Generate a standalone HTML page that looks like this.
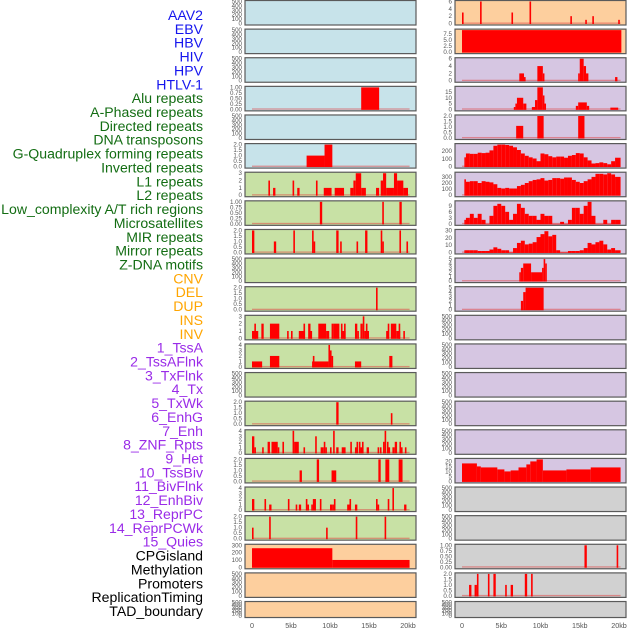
<!DOCTYPE html>
<html><head><meta charset="utf-8">
<style>
html,body{margin:0;padding:0;background:#fff;}
#wrap{position:relative;width:630px;height:630px;overflow:hidden;}
svg{position:absolute;left:0;top:0;}
text{font-family:"Liberation Sans","DejaVu Sans",sans-serif;}
</style></head>
<body>
<div id="wrap">
<svg id="chart" width="630" height="630" viewBox="0 0 630 630"></svg>
</div>
<script>
const labelNames = ["AAV2","EBV","HBV","HIV","HPV","HTLV-1","Alu repeats","A-Phased repeats","Directed repeats","DNA transposons","G-Quadruplex forming repeats","Inverted repeats","L1 repeats","L2 repeats","Low_complexity A/T rich regions","Microsatellites","MIR repeats","Mirror repeats","Z-DNA motifs","CNV","DEL","DUP","INS","INV","1_TssA","2_TssAFlnk","3_TxFlnk","4_Tx","5_TxWk","6_EnhG","7_Enh","8_ZNF_Rpts","9_Het","10_TssBiv","11_BivFlnk","12_EnhBiv","13_ReprPC","14_ReprPCWk","15_Quies","CPGisland","Methylation","Promoters","ReplicationTiming","TAD_boundary"];
const labelGroups = [6,13,5,15,5];
const groupColors = ["#1515ee","#136d13","#ffa500","#9a2be8","#000000"];
const leftBg = ["b","b","b","b","b","b","g","g","g","g","g","g","g","g","g","g","g","g","g","p","p","p"];
const rightBg = ["p","p","l","l","l","l","l","l","l","l","l","l","l","l","l","l","l","y","y","y","y","y"];
const bgColors = {b:"#c7e3ea",g:"#c8e1a5",p:"#fdcf9e",l:"#d6c6e2",y:"#d1d1d1"};
const xTickLabels = ["0","5kb","10kb","15kb","20kb"];
const xTickValues = [0,5,10,15,20];

const E = ["0","100","200","300","400","500"];
const leftTicks = [E,E,E,["0.00","0.25","0.50","0.75","1.00"],E,["0.0","0.5","1.0","1.5","2.0"],
 ["0","1","2","3"],["0.00","0.25","0.50","0.75","1.00"],["0.0","0.5","1.0","1.5","2.0"],E,["0.0","0.5","1.0","1.5","2.0"],["0","1","2","3"],
 ["0","1","2","3","4"],E,["0.0","0.5","1.0","1.5","2.0"],["0","1","2","3","4"],["0.0","0.5","1.0","1.5","2.0"],["0","1","2","3","4"],
 ["0.0","0.5","1.0","1.5","2.0"],["0","100","200","300"],E,E];
const leftSegs = [[],[],[],[[14,16.3,1]],[],[[7,9.3,1],[9.3,10.3,2]],
 [[2.1,2.3,2],[2.7,3,1],[5.2,5.4,2],[5.8,6.1,1],[8.2,8.4,2],[9.2,10.2,1],[10.6,11.8,1],[12.6,13,1],[13,13.3,2],[13.3,14,3],[14,14.6,1],[15.9,16.3,1],[16.5,16.8,2],[16.8,17.2,3],[17.2,18.2,1],[18.2,18.6,3],[18.6,19.4,2],[19.4,20,1]],
 [[8.7,9,1],[16.7,16.9,1],[18.9,19.2,1]],
 [[0,0.3,2],[2.8,3.1,1],[5.3,5.5,2],[7.7,7.9,2],[7.9,8.1,1],[10.8,11.1,2],[11.3,11.5,1],[13.4,13.6,1],[14.5,14.8,2],[16.5,16.7,2],[16.7,16.9,1],[18.9,19.1,2],[19.8,20,1]],
 [],[[15.9,16.1,2]],
 [[0,0.8,1],[0.3,0.5,2],[1.2,1.5,2],[2.3,3.5,2],[4.5,4.7,1],[5,5.2,1],[6,6.8,1],[6.6,6.8,2],[7.2,7.5,2],[7.5,7.7,1],[8.5,9.5,2],[9.5,9.9,1],[10.2,10.5,2],[10.5,11.2,2],[11.4,11.6,2],[11.6,12,1],[11.8,12,2],[13.2,13.5,2],[13.5,13.7,1],[13.9,14.2,2],[14.2,14.4,3],[14.4,15,1],[14.6,14.8,2],[17.2,17.5,1],[17.4,17.6,2],[17.8,18.5,2],[18.5,19,1],[18.8,19,2],[19.4,19.6,1]],
 [[0,1.3,1],[2.3,3.5,2],[7.7,9.8,1],[7.8,8,2],[9.8,10,4],[10,10.2,3],[10.2,10.4,2],[13.2,14,1],[17.6,18,2]],
 [],[[10.8,11.1,2],[17.8,18,1]],
 [[0,0.3,3],[0.3,0.5,1],[1.3,1.5,1],[2,2.3,2],[2.5,3.3,2],[3.3,3.5,1],[3.9,4.1,2],[5.2,5.4,4],[5.4,6,2],[6.6,6.8,1],[8.1,8.3,3],[8.8,9.2,1],[9.2,9.4,2],[9.4,9.6,1],[10,10.2,1],[10.4,10.6,4],[10.8,11.1,1],[11.5,12,1],[12.6,12.8,2],[13.2,13.4,1],[13.4,13.6,2],[13.7,13.9,2],[13.9,14.1,1],[14.1,14.3,2],[14.7,15,1],[16.1,16.3,1],[16.4,16.6,1],[16.8,17,2],[17,17.2,4],[17.3,17.5,2],[17.5,17.7,1],[18,18.3,1],[18.3,18.6,2],[18.9,19.1,2],[19.1,19.3,1],[19.6,19.8,1]],
 [[6.1,6.4,1],[8.3,8.6,2],[10.2,10.8,1],[16.2,16.5,2],[17.1,17.6,2],[18.8,19.3,2]],
 [[0,0.3,2],[1.6,1.8,2],[2.2,2.5,1],[4.6,4.8,2],[5.6,5.8,1],[6,6.3,1],[6.9,7.1,2],[7.1,7.3,1],[7.6,7.8,1],[7.8,8.2,2],[8.7,8.9,2],[10,10.3,1],[10.3,10.5,1],[10.5,10.7,2],[12.2,12.5,1],[12.5,12.7,2],[13.2,13.5,1],[15.9,16.1,2],[16.1,16.3,1],[17.4,17.6,2],[18,18.2,4],[19.5,19.8,1]],
 [[0,0.2,1],[2.2,2.4,2],[9.5,9.7,1],[13.3,13.5,2],[17,17.2,2]],
 [[0,10.3,260],[10.3,20.2,100]],[],[]];

const rightTicks = [["0","2","4","6"],["0.0","2.5","5.0","7.5"],["0","2","4","6"],["0","5","10","15"],["0.0","0.5","1.0","1.5","2.0"],["0","100","200"],
 ["0","100","200","300"],["0","3","6","9"],["0","10","20","30"],["0","1","2","3","4","5"],["0","1","2","3","4","5"],E,E,E,E,E,
 ["0","5","10","15","20"],E,E,["0.00","0.25","0.50","0.75","1.00"],["0.0","0.5","1.0","1.5","2.0"],E];
const gquadBins = [120,170,165,165,180,175,180,210,270,285,285,280,270,250,215,170,140,120,105,70,170,160,135,120,130,130,115,140,150,175,170,120,80,40,45,55,45,30,70,115];
const l1Bins = [260,220,230,230,200,230,220,210,180,120,110,120,110,110,150,170,200,230,250,260,280,240,250,280,280,270,290,290,250,220,200,230,260,300,350,350,340,360,340,300];
const lowCxBins = [2,3,5,3,5,2,0,4,9,10,9,6,2,5,10,8,5,4,4,2,5,4,4,0,0,1,0,2,8,8,5,9,11,4,0,0,2,0,2,2];
const mirBins = [3,3,3,3,2,2,2,4,7,5,3,3,0,6,13,16,11,12,14,21,25,29,22,24,3,0,0,2,2,2,3,6,13,11,14,16,11,4,6,3];
const rightSegs = [
 [[0,0.12,3],[2.3,2.42,6],[6.3,6.42,3],[8.6,8.72,6],[13.8,13.92,2],[15.7,15.82,1],[16.6,16.72,2],[19.9,20.02,1]],
 [[0,20.3,9]],
 [[7.3,7.9,2],[7.9,8.1,1],[9.6,10.3,4],[10.3,10.5,2],[14.8,15,2],[15,15.5,6],[15.5,15.8,4],[15.8,16.1,2],[19.5,19.8,1]],
 [[6.6,6.8,2],[6.8,7,5],[7,7.8,10],[7.8,8.2,5],[8.9,9.3,2],[9.3,9.6,8],[9.6,10.3,19],[10.3,10.5,12],[10.5,10.7,5],[14.5,14.8,3],[14.8,15.9,6],[15.9,16.2,3],[18.9,19.9,1.5]],
 [[6.9,7.8,1.1],[9.6,10.4,2],[14.8,15.6,2]],
 "gquad","l1","lowcx","mir",
 [[7.3,7.5,2],[7.5,7.8,3],[7.8,8.8,4],[8.8,10.2,2],[10.2,10.4,3],[10.4,10.6,5],[10.6,10.8,4]],
 [[7.5,7.8,2],[7.8,8.1,4],[8.1,10.4,5]],
 [],[],[],[],[],
 [[0,1.9,18],[1.9,2.4,15],[2.4,4.5,14],[4.5,5.4,12],[5.4,6.2,10],[6.2,7.2,11],[7.2,8.2,14],[8.2,8.7,17],[8.7,9.5,20],[9.5,10.3,22],[10.3,13.3,11],[13.3,16.4,12],[16.4,20.2,14]],
 [],[],
 [[15.6,15.9,1],[19.7,19.85,1]],
 [[0.9,1.2,1],[1.6,1.9,1],[1.9,2.1,2],[3.3,3.5,2],[4,4.3,2],[5.5,5.7,1],[6.2,6.5,1],[8,8.3,2],[8.8,9,2]],
 []];

const binnedSeries = {gquad:gquadBins,l1:l1Bins,lowcx:lowCxBins,mir:mirBins};
const NS="http://www.w3.org/2000/svg";
const svg=document.getElementById('chart');
function mk(tag,attrs,parent){const e=document.createElementNS(NS,tag);for(const k in attrs)e.setAttribute(k,attrs[k]);(parent||svg).appendChild(e);return e;}

let idx=0;
labelGroups.forEach((n,g)=>{for(let j=0;j<n;j++){const t=mk('text',{x:203,y:15+idx*13.86+5,'text-anchor':'end','font-size':'14.1',fill:groupColors[g]});


t.textContent=labelNames[idx];idx++;}});

function rowTop(i){return 0.5+i*28.62;}
function rowH(i){return i===21?16:24.5;}

function drawPanel(col,i,ticks,segsIn,bg){
  const px=col===0?245:455, pw=171;
  const x0=col===0?252:462, kx=col===0?7.8:7.85;
  const sx=kb=>x0+kb*kx;
  const top=rowTop(i), h=rowH(i);
  const g=mk('g',{});
  
  
  const r=mk('rect',{x:px,y:top,width:pw,height:h,fill:bgColors[bg],stroke:'#5a5a5a','stroke-width':1.2},g);
  
  
  let segs=segsIn;
  if(typeof segsIn==='string'){const b=binnedSeries[segsIn];segs=b.map((v,k)=>[k*0.5+(k===0?0.3:0),k*0.5+0.5+(k===b.length-1?0.2:0),v]);}
  const tickVals=ticks.map(parseFloat);
  let ymax=tickVals[tickVals.length-1];
  segs.forEach(s=>{if(s[2]>ymax)ymax=s[2];});
  const yb=top+h-1.5, yt=top+1;
  const sy=v=>yb-(v/ymax)*(yb-yt);
  ticks.forEach((t,k)=>{const tt=mk('text',{x:px-3,y:sy(tickVals[k])+2,'text-anchor':'end','font-size':6.2,fill:'#555'},g);
    
    
    tt.textContent=t;});
  if(segs.length){
    const bl=mk('rect',{x:sx(0),y:yb-1,width:sx(20.2)-sx(0),height:1.3,fill:'#e04040',opacity:0.5},g);
    
    
  }
  segs.forEach(s=>{const y=sy(s[2]);const b=mk('rect',{x:sx(s[0]),y:y,width:Math.max(1.6,sx(s[1])-sx(s[0])),height:yb-y+0.5,fill:'#ff0000'},g);
    
    });
}
for(let i=0;i<22;i++){drawPanel(0,i,leftTicks[i],leftSegs[i],leftBg[i]);drawPanel(1,i,rightTicks[i],rightSegs[i],rightBg[i]);}

[0,1].forEach(col=>{const x0=col===0?252:462,kx=col===0?7.8:7.85;
 xTickValues.forEach((v,k)=>{const t=mk('text',{x:x0+v*kx,y:628,'text-anchor':'middle','font-size':7.2,fill:'#555'});
  
  
  t.textContent=xTickLabels[k];});});
</script>
</body></html>
